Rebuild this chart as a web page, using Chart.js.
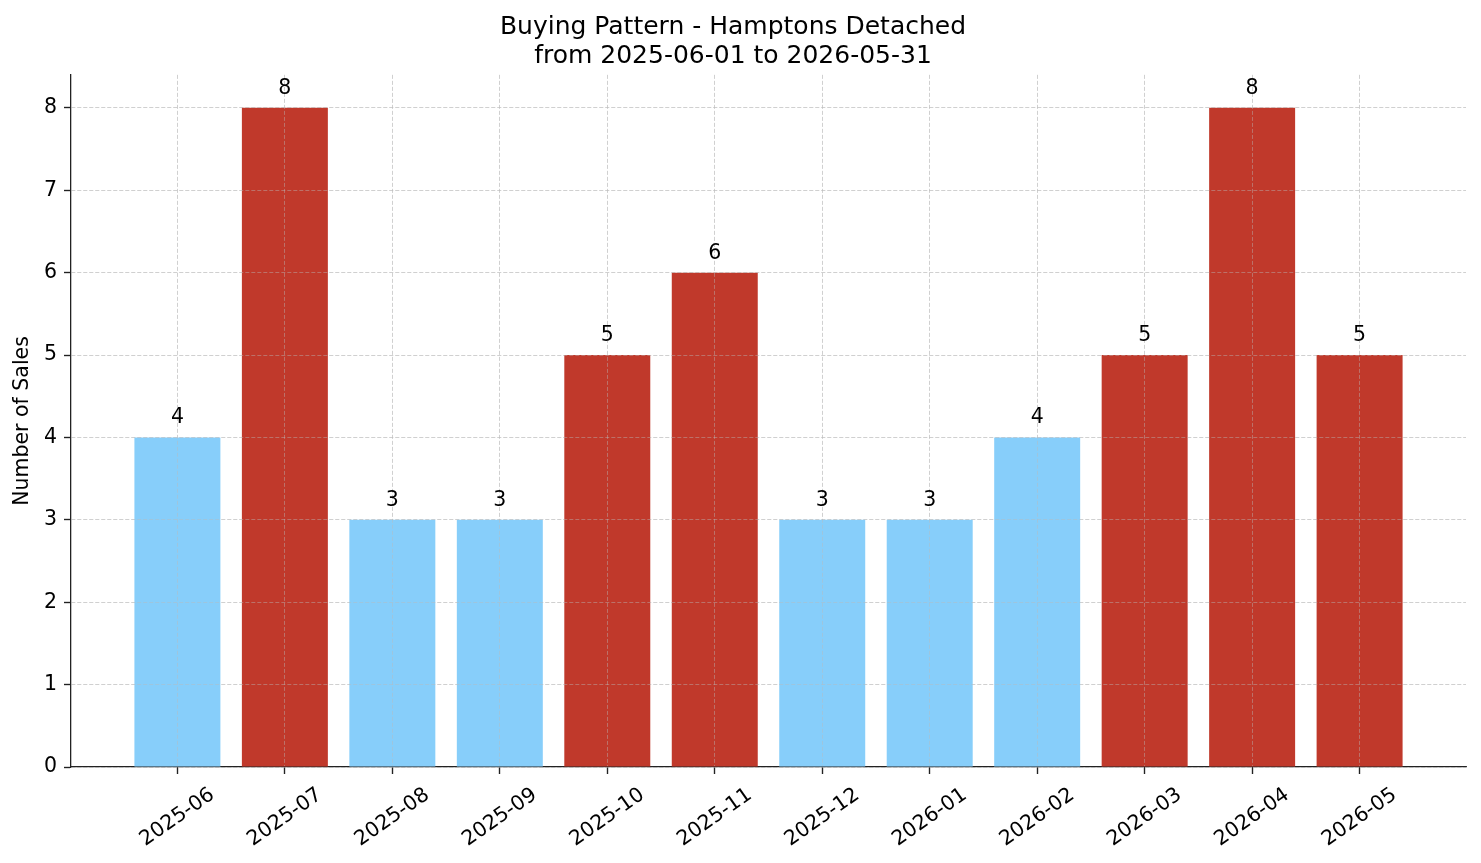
<!DOCTYPE html>
<html>
<head>
<meta charset="utf-8">
<script src="https://cdn.jsdelivr.net/npm/chart.js@4.4.1/dist/chart.umd.min.js"></script>
<style>
  body { margin: 0; background: #fff; }
</style>
</head>
<body>
<canvas id="salesChart" width="1481" height="863"></canvas>
<script>
const months = ['2025-06', '2025-07', '2025-08', '2025-09', '2025-10', '2025-11',
                '2025-12', '2026-01', '2026-02', '2026-03', '2026-04', '2026-05'];
const sales = [4, 8, 3, 3, 5, 6, 3, 3, 4, 5, 8, 5];
const yTicks = [0, 1, 2, 3, 4, 5, 6, 7, 8];

const BLUE = '#87CEFA';
const RED = '#C0392B';
const FONT = "'DejaVu Sans', sans-serif";
const TICK_SIZE = 20.5;
const gridColor = 'rgba(185,185,185,0.55)';

// matplotlib draws the grid above the bars, so draw it again after datasets
const gridOnTop = {
  id: 'gridOnTop',
  afterDatasetsDraw(chart) {
    chart.scales.x.drawGrid(chart.chartArea);
    chart.scales.y.drawGrid(chart.chartArea);
  }
};

const barLabels = {
  id: 'barLabels',
  afterDatasetsDraw(chart) {
    const ctx = chart.ctx;
    const meta = chart.getDatasetMeta(0);
    ctx.save();
    ctx.font = TICK_SIZE + 'px ' + FONT;
    ctx.fillStyle = '#000';
    ctx.textAlign = 'center';
    ctx.textBaseline = 'alphabetic';
    meta.data.forEach((bar, i) => {
      ctx.fillText(String(sales[i]), bar.x, bar.y - 14);
    });
    ctx.restore();
  }
};

// rotated, centred x labels like matplotlib (rotation=35, ha=center)
const rotatedLabels = {
  id: 'rotatedLabels',
  afterDraw(chart) {
    const ctx = chart.ctx;
    const xs = chart.scales.x;
    const ang = 35 * Math.PI / 180;
    const top = chart.chartArea.bottom + 16;
    ctx.save();
    ctx.font = TICK_SIZE + 'px ' + FONT;
    ctx.fillStyle = '#000';
    ctx.textAlign = 'center';
    ctx.textBaseline = 'middle';
    months.forEach((m, i) => {
      const w = ctx.measureText(m).width;
      const h = TICK_SIZE * 1.17;
      const boxH = w * Math.sin(ang) + h * Math.cos(ang);
      ctx.save();
      ctx.translate(xs.getPixelForValue(i), top + boxH / 2);
      ctx.rotate(-ang);
      ctx.fillText(m, 0, 0);
      ctx.restore();
    });
    ctx.restore();
  }
};

new Chart(document.getElementById('salesChart'), {
  type: 'bar',
  data: {
    datasets: [{
      data: sales.map((v, i) => ({ x: i, y: v })),
      backgroundColor: sales.map(v => v >= 5 ? RED : BLUE),
      barPercentage: 0.8,
      categoryPercentage: 1.0,
      borderWidth: 0
    }]
  },
  options: {
    responsive: false,
    animation: false,
    layout: { padding: { left: 0, right: 15, top: 0, bottom: 89 } },
    plugins: {
      legend: { display: false },
      tooltip: { enabled: false },
      title: {
        display: true,
        text: ['Buying Pattern - Hamptons Detached', 'from 2025-06-01 to 2026-05-31'],
        color: '#000',
        font: { family: FONT, size: 25, weight: 'normal', lineHeight: 1.17 },
        padding: { top: 12.4, bottom: 4 }
      }
    },
    scales: {
      x: {
        type: 'linear',
        min: -0.99,
        max: 11.99,
        offset: false,
        afterBuildTicks: s => { s.ticks = months.map((_, i) => ({ value: i })); },
        ticks: { display: false },
        grid: {
          offset: false,
          color: gridColor,
          lineWidth: 0.8,
          tickColor: '#222',
          tickLength: 7,
          tickWidth: 1.2
        },
        border: { color: '#222', width: 1.3, dash: [4, 2] }
      },
      y: {
        min: 0,
        max: 8.4,
        afterBuildTicks: s => { s.ticks = yTicks.map(v => ({ value: v })); },
        afterFit: s => { s.width = 71; },
        ticks: {
          color: '#000',
          padding: 7,
          font: { family: FONT, size: TICK_SIZE },
          callback: v => String(v)
        },
        grid: {
          color: gridColor,
          lineWidth: 0.8,
          tickColor: '#222',
          tickLength: 7,
          tickWidth: 1.2
        },
        border: { color: '#222', width: 1.3, dash: [4, 2] },
        title: {
          display: true,
          text: 'Number of Sales',
          color: '#000',
          font: { family: FONT, size: TICK_SIZE },
          padding: { top: 10, bottom: 0 }
        }
      }
    }
  },
  plugins: [gridOnTop, barLabels, rotatedLabels]
});
</script>
</body>
</html>
